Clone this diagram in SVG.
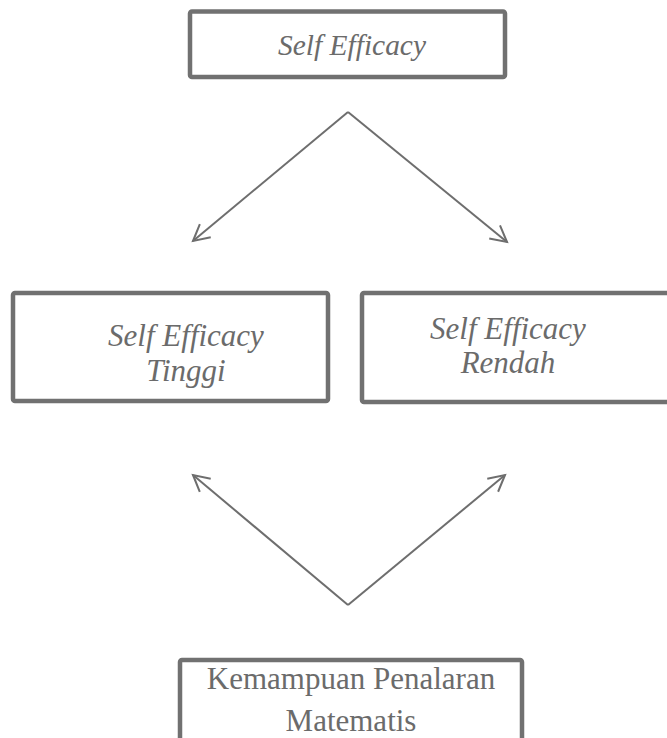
<svg xmlns="http://www.w3.org/2000/svg" width="667" height="738" viewBox="0 0 667 738">
<defs>
<style>
.box{fill:none;stroke:#717171;stroke-width:4.5}
.t{font-family:"Liberation Serif","Times New Roman",serif;font-size:31px;fill:#6b6b6b;text-anchor:middle}
.i{font-style:italic}
.c{fill:none;stroke:#6e6e6e;stroke-width:2}
</style>
<marker id="arr" markerUnits="userSpaceOnUse" markerWidth="24" markerHeight="24" viewBox="-20 -12 24 24" refX="0" refY="0" orient="auto">
<path d="M-16,-8.5 L0,0 L-16,8.5" fill="none" stroke="#6e6e6e" stroke-width="2"/>
</marker>
</defs>
<rect width="667" height="738" fill="#ffffff"/>
<g id="node-top">
<rect class="box" x="190" y="11.5" width="315" height="65.5" rx="2"/>
<text class="t i" x="352" y="55" style="font-size:30px" textLength="148" lengthAdjust="spacingAndGlyphs">Self Efficacy</text>
</g>
<g id="node-tinggi">
<rect class="box" x="13" y="293" width="315" height="108" rx="2"/>
<text class="t i" x="186" y="346">Self Efficacy</text>
<text class="t i" x="186" y="381">Tinggi</text>
</g>
<g id="node-rendah">
<rect class="box" x="362" y="293" width="320" height="109" rx="2"/>
<text class="t i" x="508" y="339">Self Efficacy</text>
<text class="t i" x="508" y="373">Rendah</text>
</g>
<g id="node-kemampuan">
<rect class="box" x="180" y="660" width="342" height="100" rx="2"/>
<text class="t" x="351" y="689">Kemampuan Penalaran</text>
<text class="t" x="351" y="731">Matematis</text>
</g>
<g id="connectors">
<path class="c" d="M348,112 L193,241" marker-end="url(#arr)"/>
<path class="c" d="M348,112 L507,242" marker-end="url(#arr)"/>
<path class="c" d="M348,605 L193,475" marker-end="url(#arr)"/>
<path class="c" d="M348,605 L505,475" marker-end="url(#arr)"/>
</g>
</svg>
